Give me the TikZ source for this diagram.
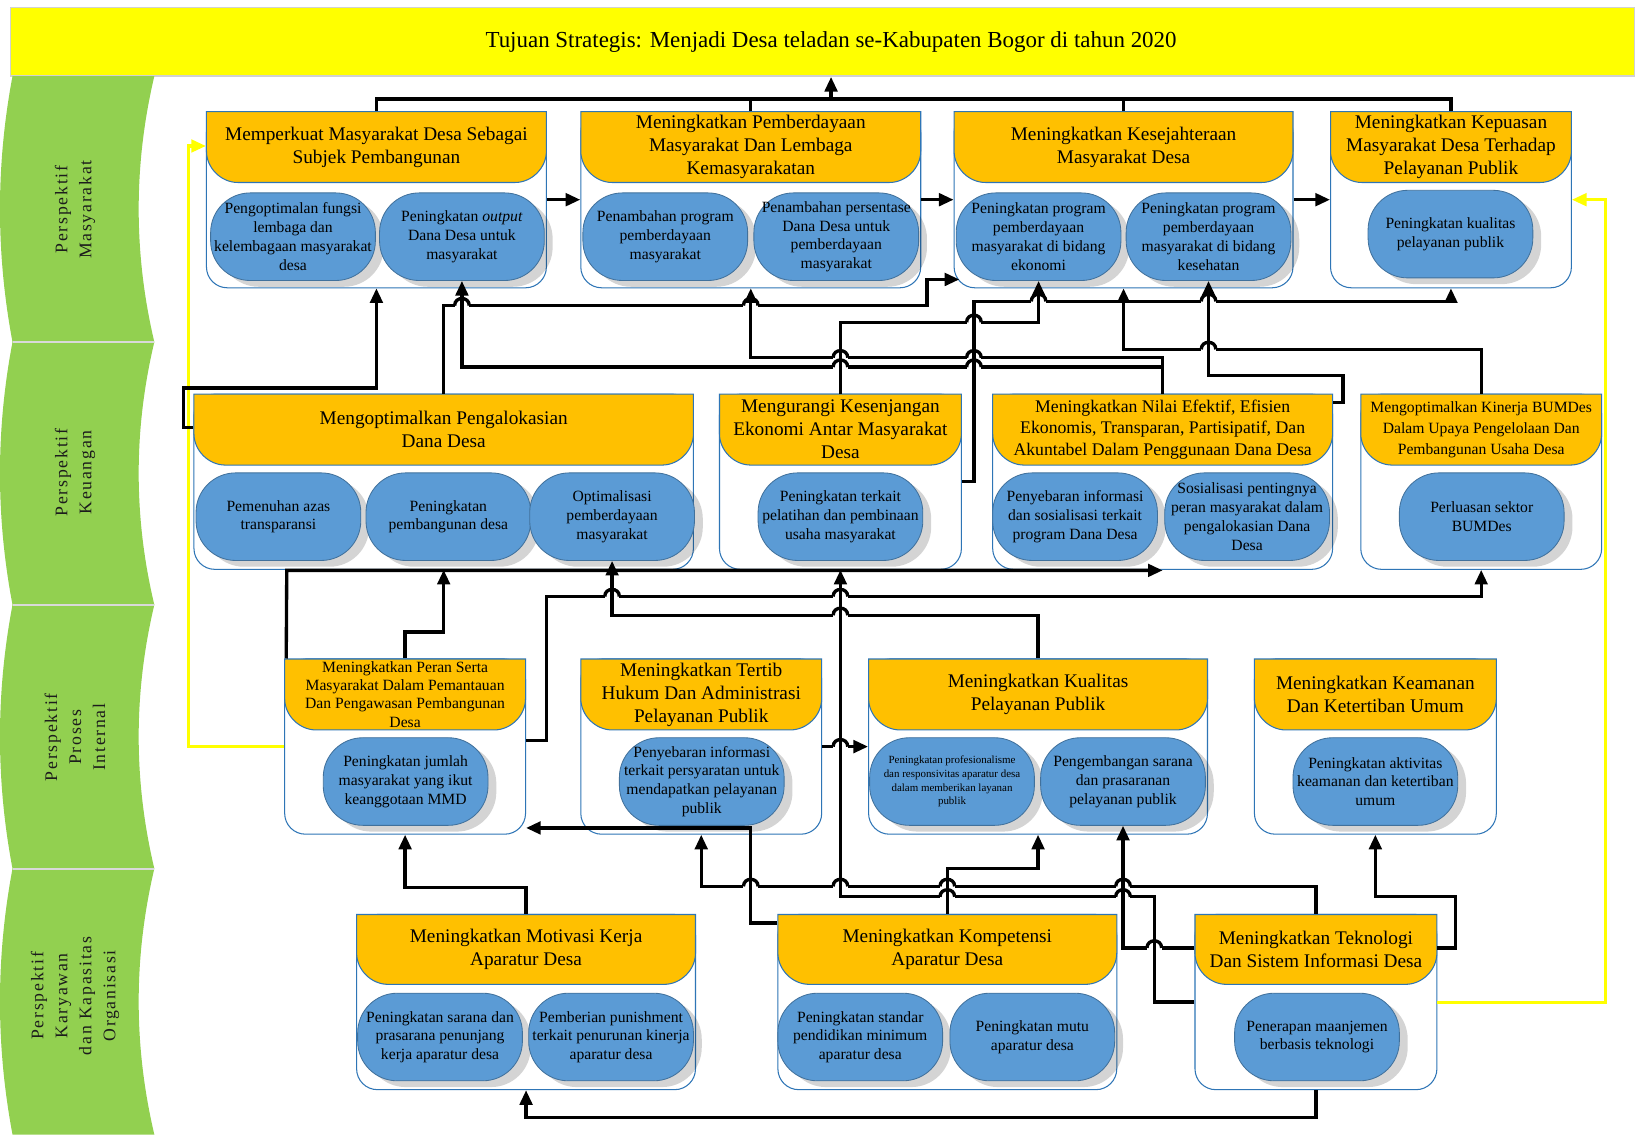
\documentclass[tikz,border=0pt]{standalone}
\usepackage{fontspec}
\setmainfont{Liberation Serif}
\newfontfamily\spacedfont[LetterSpace=10]{Liberation Serif}
\usetikzlibrary{arrows.meta,shadows}
\definecolor{hdrorange}{HTML}{FFC000}
\definecolor{subblue}{HTML}{5B9BD5}
\definecolor{subedge}{HTML}{41719C}
\definecolor{boxedge}{HTML}{2E75B6}
\definecolor{bandgreen}{HTML}{92D050}
\definecolor{titleyellow}{HTML}{FFFF00}
\definecolor{gtextcol}{HTML}{1C1C1C}
\newcommand\hfnt{\fontsize{18.5}{22}\selectfont}
\newcommand\subtxt{\fontsize{15}{18}\selectfont}
\newcommand\objbox[8][\hfnt]{%
  \node[outerbox, minimum width={#5-#3}, minimum height={#6-#4}] (#2) at ({(#3+#5)/2},{(#4+#6)/2}) {};
  \filldraw[hdrpath] (#3,#4) -- (#5,#4) -- (#5,{#7-30}) .. controls (#5,{#7-14}) and ({#5-14},#7) .. ({#5-30},#7) -- ({#3+30},#7) .. controls ({#3+14},#7) and (#3,{#7-14}) .. (#3,{#7-30}) -- cycle;
  \node[hdrtext, font=#1] (#2h) at ({(#3+#5)/2},{(#4+#7)/2}) {#8};
}
\newcommand\bandsec[2]{%
  \fill[bandgreen] (12,#1) -- (148,#1) .. controls (128,{#1+(#2-#1)/3}) and (128,{#2-(#2-#1)/3}) .. (148,#2) -- (12,#2) .. controls (-4,{#2-(#2-#1)/3}) and (-4,{#1+(#2-#1)/3}) .. (12,#1) -- cycle;
}
\newcommand\hopat[2]{%
  \fill[white] ({#1-7},{#2-2.3}) rectangle ({#1+7},{#2+2.3});
  \draw[conn] (#1,{#2-2.6}) -- (#1,{#2+2.6});
  \draw[conn] ({#1-7},#2) .. controls ({#1-7},{#2-9}) and ({#1+7},{#2-9}) .. ({#1+7},#2);
}
\begin{document}
\begin{tikzpicture}[x=1pt,y=-1pt,
  outerbox/.style={rectangle, rounded corners=20, draw=boxedge, line width=1, fill=white, inner sep=0},
  hdrpath/.style={fill=hdrorange, draw=boxedge, line width=1},
  hdrtext/.style={align=center, inner sep=0},
  sub/.style={rectangle, rounded corners=38, fill=subblue, draw=subedge, line width=0.8, align=center, inner sep=0, minimum width=158, minimum height=84, font=\subtxt, drop shadow={shadow xshift=8pt, shadow yshift=-6pt, opacity=0.17, fill=black}},
  conn/.style={line width=3.2, draw=black},
  arr/.style={conn, -{Triangle[length=14pt,width=12pt]}},
  yel/.style={line width=3, draw=titleyellow, -{Triangle[length=14pt,width=12pt]}},
  gtext/.style={rotate=90, align=center, text=gtextcol, font=\spacedfont\fontsize{17}{23}\selectfont, inner sep=0}]
\useasboundingbox (0,0) rectangle (1568,1088);
\fill[white] (0,0) rectangle (1568,1088);

% title
\node[draw=black!18, fill=titleyellow, minimum width=1558, minimum height=66, inner sep=0, line width=1.5] (Tbar) at (789,40) {};
\node[font=\fontsize{22}{26}\selectfont, inner sep=0] (Ttxt) at (797,40) {Tujuan Strategis: Menjadi Desa teladan se-Kabupaten Bogor di tahun 2020};

% green band
\bandsec{73}{328}
\bandsec{328}{580}
\bandsec{580}{833}
\bandsec{833}{1088}
\draw[black!15, line width=2] (12,328) -- (148,328);
\draw[black!15, line width=2] (12,580) -- (148,580);
\draw[black!15, line width=2] (12,833) -- (148,833);
\node[gtext] (g1) at (72,201) {Perspektif\\Masyarakat};
\node[gtext] (g2) at (72,453) {Perspektif\\Keuangan};
\node[gtext] (g3) at (72,707) {Perspektif\\Proses\\Internal};
\node[gtext] (g4) at (72,955) {Perspektif\\Karyawan\\dan Kapasitas\\Organisasi};

% boxes row 1
\objbox{A1}{198}{107}{524}{276}{175}{Memperkuat Masyarakat Desa Sebagai\\Subjek Pembangunan}
\objbox{A2}{557}{107}{883}{276}{175}{Meningkatkan Pemberdayaan\\Masyarakat Dan Lembaga\\Kemasyarakatan}
\objbox{A3}{915}{107}{1240}{276}{175}{Meningkatkan Kesejahteraan\\Masyarakat Desa}
\objbox{A4}{1276}{107}{1507}{276}{175}{Meningkatkan Kepuasan\\Masyarakat Desa Terhadap\\Pelayanan Publik}
% row 2
\objbox{K1}{186}{378}{665}{546}{446}{Mengoptimalkan Pengalokasian\\Dana Desa}
\objbox{K2}{690}{378}{922}{546}{446}{Mengurangi Kesenjangan\\Ekonomi Antar Masyarakat\\Desa}
\objbox[\fontsize{17}{20.5}\selectfont]{K3}{952}{378}{1278}{546}{446}{Meningkatkan Nilai Efektif, Efisien\\Ekonomis, Transparan, Partisipatif, Dan\\Akuntabel Dalam Penggunaan Dana Desa}
\objbox[\fontsize{15}{20}\selectfont]{K4}{1305}{378}{1536}{546}{446}{Mengoptimalkan Kinerja BUMDes\\Dalam Upaya Pengelolaan Dan\\Pembangunan Usaha Desa}
% row 3
\objbox[\fontsize{15}{17.5}\selectfont]{P1}{273}{632}{504}{800}{700}{Meningkatkan Peran Serta\\Masyarakat Dalam Pemantauan\\Dan Pengawasan Pembangunan\\Desa}
\objbox{P2}{557}{632}{788}{800}{700}{Meningkatkan Tertib\\Hukum Dan Administrasi\\Pelayanan Publik}
\objbox{P3}{833}{632}{1158}{800}{700}{Meningkatkan Kualitas\\Pelayanan Publik}
\objbox{P4}{1203}{632}{1435}{800}{700}{Meningkatkan Keamanan\\Dan Ketertiban Umum}
% row 4
\objbox{L1}{342}{877}{667}{1045}{944}{Meningkatkan Motivasi Kerja\\Aparatur Desa}
\objbox{L2}{746}{877}{1071}{1045}{944}{Meningkatkan Kompetensi\\Aparatur Desa}
\objbox{L3}{1146}{877}{1378}{1045}{944}{Meningkatkan Teknologi\\Dan Sistem Informasi Desa}

% sub nodes
\node[sub] (B1a) at (281,227) {Pengoptimalan fungsi\\lembaga dan\\kelembagaan masyarakat\\desa};
\node[sub] (B1b) at (443,227) {Peningkatan \textit{output}\\Dana Desa untuk\\masyarakat};
\node[sub] (B2a) at (638,227) {Penambahan program\\pemberdayaan\\masyarakat};
\node[sub] (B2b) at (802,227) {Penambahan persentase\\Dana Desa untuk\\pemberdayaan\\masyarakat};
\node[sub] (B3a) at (996,227) {Peningkatan program\\pemberdayaan\\masyarakat di bidang\\ekonomi};
\node[sub] (B3b) at (1159,227) {Peningkatan program\\pemberdayaan\\masyarakat di bidang\\kesehatan};
\node[sub] (B4) at (1391,224.5) {Peningkatan kualitas\\pelayanan publik};

\node[sub] (KB1a) at (267,495.5) {Pemenuhan azas\\transparansi};
\node[sub] (KB1b) at (430,495.5) {Peningkatan\\pembangunan desa};
\node[sub] (KB1c) at (587,495.5) {Optimalisasi\\pemberdayaan\\masyarakat};
\node[sub] (KB2) at (806,495.5) {Peningkatan terkait\\pelatihan dan pembinaan\\usaha masyarakat};
\node[sub] (KB3a) at (1031,495.5) {Penyebaran informasi\\dan sosialisasi terkait\\program Dana Desa};
\node[sub] (KB3b) at (1196,495.5) {Sosialisasi pentingnya\\peran masyarakat dalam\\pengalokasian Dana\\Desa};
\node[sub] (KB4) at (1421,495.5) {Perluasan sektor\\BUMDes};

\node[sub] (PB1) at (389,749.5) {Peningkatan jumlah\\masyarakat yang ikut\\keanggotaan MMD};
\node[sub] (PB2) at (673,749.5) {Penyebaran informasi\\terkait persyaratan untuk\\mendapatkan pelayanan\\publik};
\node[sub, font=\fontsize{10.5}{13}\selectfont] (PB3a) at (913,749.5) {Peningkatan profesionalisme\\dan responsivitas aparatur desa\\dalam memberikan layanan\\publik};
\node[sub] (PB3b) at (1077,749.5) {Pengembangan sarana\\dan prasaranan\\pelayanan publik};
\node[sub] (PB4) at (1319,749.5) {Peningkatan aktivitas\\keamanan dan ketertiban\\umum};

\node[sub] (LB1a) at (422,994.5) {Peningkatan sarana dan\\prasarana penunjang\\kerja aparatur desa};
\node[sub] (LB1b) at (586,994.5) {Pemberian punishment\\terkait penurunan kinerja\\aparatur desa};
\node[sub] (LB2a) at (825,994.5) {Peningkatan standar\\pendidikan minimum\\aparatur desa};
\node[sub] (LB2b) at (990,994.5) {Peningkatan mutu\\aparatur desa};
\node[sub] (LB3) at (1263,994.5) {Penerapan maanjemen\\berbasis teknologi};

% top connectors
\draw[conn] (A1.north) -- (361,95) -- (1391.5,95) -- (A4.north);
\draw[conn] (A2.north) -- (720,95);
\draw[conn] (A3.north) -- (1077.5,95);
\draw[arr] (797,95) -- (Tbar.south -| Ttxt);
\draw[arr] (A1.east) -- (A2.west);
\draw[arr] (A2.east) -- (A3.west);
\draw[arr] (A3.east) -- (A4.west);

% yellow
\draw[yel] (P1.west) -- (181,716) -- (181,140) -- (A1.west |- 181,140);
\draw[yel] (L3.east) -- (1540,961) -- (1540,191.5) -- (A4.east);

% row 2 -> row 1
\draw[arr] (K1.west |- 0,410) -- (176,410) -- (176,372) -- (361,372) -- (A1.south);
\draw[arr] (K1.north) -- (425.5,293) -- (889,293) -- (889,268) -- (920,268);
\draw[arr] (K3.north) -- (1115,343) -- (720,343) -- (A2.south);
\draw[arr] (1115,352) -- (443,352) -- (B1b.south);
\draw[arr] (K2.north) -- (806,309) -- (996,309) -- (B3a.south);
\draw[arr] (K2.east) -- (934,462) -- (934,289) -- (1391.5,289) -- (A4.south);
\draw[arr] (K4.north) -- (1420.5,335) -- (1077.5,335) -- (A3.south);
\draw[arr] (K3.east |- 0,386) -- (1288,386) -- (1288,360) -- (1159,360) -- (B3b.south);

% row 3 -> row 2
\draw[arr] ([xshift=2pt]P1.north west) -- (275,547) -- (1115,547);
\draw[arr] (P1.north) -- (388.5,606) -- (425.5,606) -- (K1.south);
\draw[arr] (P3.north) -- (995.5,590) -- (587,590) -- (KB1c.south);
\draw[arr] (P1.east |- 0,710) -- (524,710) -- (524,572) -- (1420.5,572) -- (K4.south);
\draw[arr] (L3.west) -- (1107,961) -- (1107,860) -- (806,860) -- (K2.south);
\draw[arr] (P2.east) -- (P3.west);

% row 4 -> row 3
\draw[arr] (L1.north) -- (504.5,851) -- (388.5,851) -- (P1.south);
\draw[arr] (L2.west |- 0,885) -- (720,885) -- (720,794) -- (P1.east |- 0,794);
\draw[arr] (L3.north) -- (1262,850) -- (672.5,850) -- (P2.south);
\draw[arr] (L2.north) -- (908.5,833) -- (995.5,833) -- (P3.south);
\draw[arr] (L3.west |- 0,909) -- (1077,909) -- (PB3b.south);
\draw[arr] (L3.east |- 0,909) -- (1396,909) -- (1396,860) -- (1319,860) -- (P4.south);
\draw[arr] (L3.south) -- (1262,1072) -- (504.5,1072) -- (L1.south);

% hops
\hopat{443}{293} \hopat{720}{293}
\hopat{934}{309}
\hopat{806}{343} \hopat{934}{343}
\hopat{806}{352} \hopat{934}{352}
\hopat{1159}{335}
\hopat{996}{289} \hopat{1159}{289}
\hopat{587}{572} \hopat{806}{572}
\hopat{806}{590}
\hopat{806}{716}
\hopat{720}{850} \hopat{806}{850} \hopat{908.5}{850} \hopat{1077}{850}
\hopat{908.5}{860} \hopat{1077}{860}
\hopat{1107}{909}
\end{tikzpicture}
\end{document}
